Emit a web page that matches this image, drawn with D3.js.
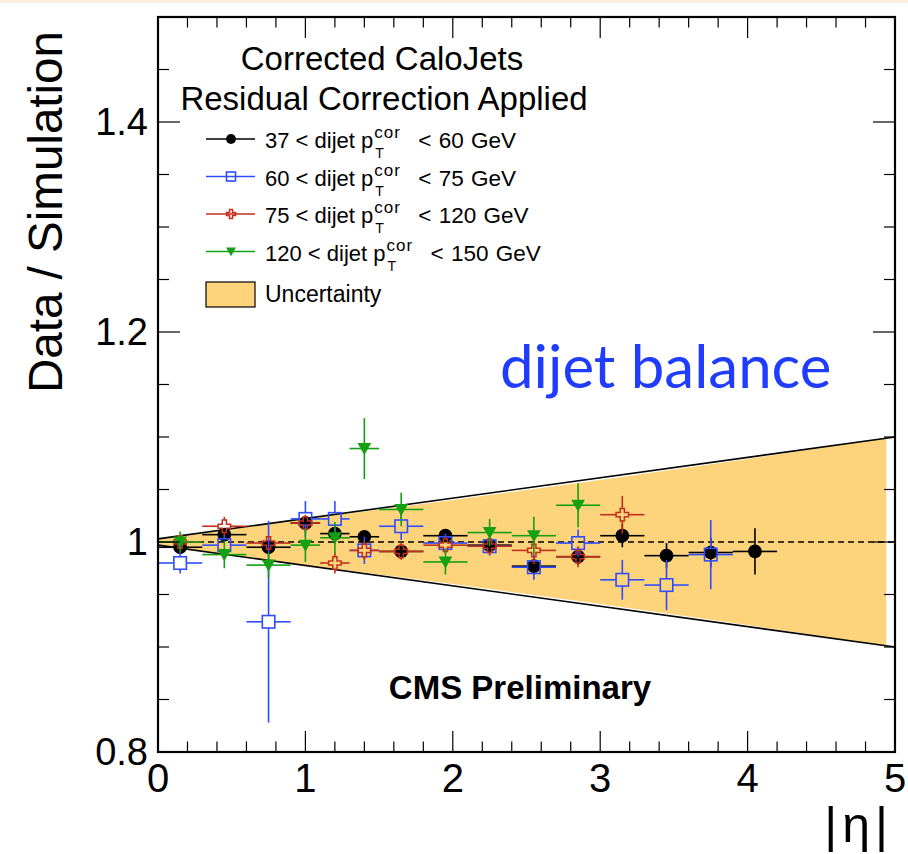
<!DOCTYPE html>
<html>
<head>
<meta charset="utf-8">
<script src="https://cdn.jsdelivr.net/npm/d3@7"></script>
<style>
  html, body { margin: 0; padding: 0; background: #fff; }
  svg { display: block; font-family: "Liberation Sans", Arial, Helvetica, sans-serif; }
</style>
</head>
<body>
<svg id="chart" width="908" height="854"></svg>
<script>
// bin edges in |eta| and the values
const binLo = [0, 0.3, 0.6, 0.9, 1.1, 1.3, 1.5, 1.8, 2.1, 2.4, 2.7, 3.0, 3.3, 3.6, 3.9]
const binHi = [0.3, 0.6, 0.9, 1.1, 1.3, 1.5, 1.8, 2.1, 2.4, 2.7, 3.0, 3.3, 3.6, 3.9, 4.2]

const pt37Val = [0.995, 1.007, 0.995, 1.018, 1.008, 1.005, 0.991, 1.006, 0.997, 0.977, 0.986, 1.006, 0.987, 0.990, 0.991]
const pt37Err = [0.006, 0.006, 0.007, 0.007, 0.007, 0.006, 0.006, 0.006, 0.007, 0.008, 0.008, 0.011, 0.012, 0.014, 0.022]

const pt60Val = [0.980, 0.997, 0.924, 1.022, 1.022, 0.992, 1.015, 0.999, 0.996, 0.976, 0.999, 0.964, 0.959, 0.988]
const pt60Err = [0.010, 0.010, 0.096, 0.017, 0.017, 0.013, 0.013, 0.009, 0.009, 0.012, 0.013, 0.019, 0.024, 0.033]

const pt75Val = [1.000, 1.015, 0.999, 1.018, 0.980, 0.992, 0.991, 0.997, 0.996, 0.992, 0.986, 1.026]
const pt75Err = [0.006, 0.009, 0.007, 0.008, 0.010, 0.009, 0.008, 0.008, 0.008, 0.013, 0.010, 0.018]

const pt120Val = [1.000, 0.988, 0.978, 0.997, 1.004, 1.089, 1.031, 0.981, 1.009, 1.006, 1.035]
const pt120Err = [0.010, 0.013, 0.012, 0.016, 0.015, 0.029, 0.016, 0.012, 0.013, 0.018, 0.021]

// uncertainty band edges
const bandEta = [0, 1, 2, 3, 4, 4.94]
const bandUp = [1.003, 1.022, 1.040, 1.059, 1.079, 1.099]
const bandDown = [0.997, 0.978, 0.960, 0.941, 0.921, 0.901]
const bandLineEta = [0, 5]
const bandLineUp = [1.003, 1.100]
const bandLineDown = [0.997, 0.900]

const legendLabels = [
  ['37 < dijet p', '< 60 GeV'],
  ['60 < dijet p', '< 75 GeV'],
  ['75 < dijet p', '< 120 GeV'],
  ['120 < dijet p', '< 150 GeV']
]
const xTicks = [0, 1, 2, 3, 4, 5]
const yTicks = [0.8, 1.0, 1.2, 1.4]

const series = [
  { vals: pt37Val, errs: pt37Err, color: '#000000', shape: 'circle' },
  { vals: pt60Val, errs: pt60Err, color: '#2f4dff', shape: 'square' },
  { vals: pt75Val, errs: pt75Err, color: '#c2301c', shape: 'cross' },
  { vals: pt120Val, errs: pt120Err, color: '#14a014', shape: 'triangle' }
]

const svg = d3.select('#chart')
const padL = 158, padR = 895, padT = 17, padB = 752
const x = d3.scaleLinear().domain([0, 5]).range([padL, padR])
const y = d3.scaleLinear().domain([0.8, 1.5]).range([padB, padT])

// faint strip at the very top of the picture
svg.append('rect').attr('x', 0).attr('y', 0).attr('width', 908).attr('height', 3).attr('fill', '#fcefe2')

// band
const bandArea = d3.area().x((d, i) => x(bandEta[i])).y0((d, i) => y(bandDown[i])).y1((d, i) => y(bandUp[i]))
svg.append('path').datum(bandEta).attr('d', bandArea).attr('fill', '#fdd47b')
const edge = d3.line().x((d, i) => x(bandLineEta[i])).y(d => y(d))
svg.append('path').datum(bandLineUp).attr('d', edge).attr('fill', 'none').attr('stroke', '#000').attr('stroke-width', 1.6)
svg.append('path').datum(bandLineDown).attr('d', edge).attr('fill', 'none').attr('stroke', '#000').attr('stroke-width', 1.6)

// reference line at 1
svg.append('line').attr('x1', x(0)).attr('x2', x(5)).attr('y1', y(1)).attr('y2', y(1))
  .attr('stroke', '#000').attr('stroke-width', 1.4).attr('stroke-dasharray', '6,4')

// marker drawing
const drawMarker = (g, shape, color, s) => {
  if (shape === 'circle') {
    g.append('circle').attr('r', s * 0.55).attr('fill', color)
  } else if (shape === 'square') {
    g.append('rect').attr('x', -s / 2).attr('y', -s / 2).attr('width', s).attr('height', s)
      .attr('fill', 'none').attr('stroke', color).attr('stroke-width', 1.6)
  } else if (shape === 'cross') {
    const a = s / 2, b = s / 6
    const pts = [[-b, -a], [b, -a], [b, -b], [a, -b], [a, b], [b, b], [b, a], [-b, a], [-b, b], [-a, b], [-a, -b], [-b, -b]]
    g.append('polygon').attr('points', pts.map(p => p.join(',')).join(' '))
      .attr('fill', 'none').attr('stroke', color).attr('stroke-width', 1.5)
  } else {
    const a = s * 0.55
    g.append('path').attr('d', `M${-a},${-a * 0.8}L${a},${-a * 0.8}L0,${a * 0.95}Z`).attr('fill', color)
  }
}

series.forEach(sr => {
  const g = svg.append('g')
  const gap = sr.shape === 'circle' || sr.shape === 'triangle' ? 0 : 6
  sr.vals.forEach((v, i) => {
    const cx = x((binLo[i] + binHi[i]) / 2), cy = y(v)
    const segs = [
      [x(binLo[i]), cy, cx - gap, cy],
      [cx + gap, cy, x(binHi[i]), cy],
      [cx, y(v + sr.errs[i]), cx, cy - gap],
      [cx, cy + gap, cx, y(v - sr.errs[i])]
    ]
    segs.forEach(s => {
      g.append('line').attr('x1', s[0]).attr('y1', s[1]).attr('x2', s[2]).attr('y2', s[3])
        .attr('stroke', sr.color).attr('stroke-width', 1.6)
    })
    drawMarker(g.append('g').attr('transform', `translate(${cx},${cy})`), sr.shape, sr.color, 12.5)
  })
})

// frame
svg.append('rect').attr('x', padL).attr('y', padT).attr('width', padR - padL).attr('height', padB - padT)
  .attr('fill', 'none').attr('stroke', '#000').attr('stroke-width', 2.2)

// ticks, mirrored on all four sides
const xMinor = d3.range(0, 5.001, 0.2)
const yMinor = d3.range(0.8, 1.5001, 0.05)
const tickG = svg.append('g').attr('stroke', '#000').attr('stroke-width', 1.2)
xMinor.forEach(t => {
  const len = Math.abs(t - Math.round(t)) < 1e-6 ? 21 : 10.5
  tickG.append('line').attr('x1', x(t)).attr('x2', x(t)).attr('y1', padB).attr('y2', padB - len)
  tickG.append('line').attr('x1', x(t)).attr('x2', x(t)).attr('y1', padT).attr('y2', padT + len)
})
yMinor.forEach(t => {
  const major = Math.abs(t * 5 - Math.round(t * 5)) < 1e-6
  const len = major ? 22 : 11
  tickG.append('line').attr('x1', padL).attr('x2', padL + len).attr('y1', y(t)).attr('y2', y(t))
  tickG.append('line').attr('x1', padR).attr('x2', padR - len).attr('y1', y(t)).attr('y2', y(t))
})

// tick labels
svg.append('g').selectAll('text').data(xTicks).join('text')
  .attr('x', d => x(d)).attr('y', 792).attr('text-anchor', 'middle')
  .attr('font-size', 40).text(d => d)
svg.append('g').selectAll('text').data(yTicks).join('text')
  .attr('x', 148).attr('y', d => y(d) + 13).attr('text-anchor', 'end')
  .attr('font-size', 38).text(d => d3.format('~g')(d))

// axis titles
svg.append('text').attr('transform', 'translate(62,212) rotate(-90)').attr('text-anchor', 'middle')
  .attr('font-size', 48).attr('textLength', 362).attr('lengthAdjust', 'spacingAndGlyphs').text('Data / Simulation')
svg.append('text').attr('x', 893).attr('y', 842).attr('text-anchor', 'end').attr('font-size', 50)
  .attr('letter-spacing', 5).text('|η|')

// header lines
svg.append('text').attr('x', 382).attr('y', 70).attr('text-anchor', 'middle').attr('font-size', 33).text('Corrected CaloJets')
svg.append('text').attr('x', 384).attr('y', 110).attr('text-anchor', 'middle').attr('font-size', 33).text('Residual Correction Applied')

// legend
const legBase = [148, 185.5, 223, 260.5]
legendLabels.forEach((lab, i) => {
  const sr = series[i]
  const cy = legBase[i] - 9
  const g = svg.append('g')
  g.append('line').attr('x1', 206).attr('x2', 255).attr('y1', cy).attr('y2', cy).attr('stroke', sr.color).attr('stroke-width', 1.4)
  drawMarker(g.append('g').attr('transform', `translate(231,${cy})`), sr.shape, sr.color, 9)
  const t1 = g.append('text').attr('x', 265).attr('y', legBase[i]).attr('font-size', 22).text(lab[0])
  const w = t1.node().getComputedTextLength()
  const sx = 265 + w + 1
  g.append('text').attr('x', sx).attr('y', legBase[i] - 10).attr('font-size', 17)
    .attr('letter-spacing', 1).text('cor')
  g.append('text').attr('x', sx + 1).attr('y', legBase[i] + 10).attr('font-size', 14).text('T')
  g.append('text').attr('x', sx + 44).attr('y', legBase[i]).attr('font-size', 22.5)
    .attr('word-spacing', 1).text(lab[1])
})
svg.append('rect').attr('x', 206).attr('y', 282).attr('width', 49).attr('height', 25)
  .attr('fill', '#fdd47b').attr('stroke', '#000').attr('stroke-width', 1.2)
svg.append('text').attr('x', 265).attr('y', 302).attr('font-size', 23).text('Uncertainty')

// annotations
svg.append('text').attr('x', 500).attr('y', 388).attr('font-family', 'Lato, "Open Sans", sans-serif')
  .attr('font-size', 60).attr('fill', '#1f3cff').text('dijet balance')
svg.append('text').attr('x', 520).attr('y', 699).attr('text-anchor', 'middle').attr('font-weight', 'bold')
  .attr('font-size', 33).text('CMS Preliminary')
</script>
</body>
</html>
